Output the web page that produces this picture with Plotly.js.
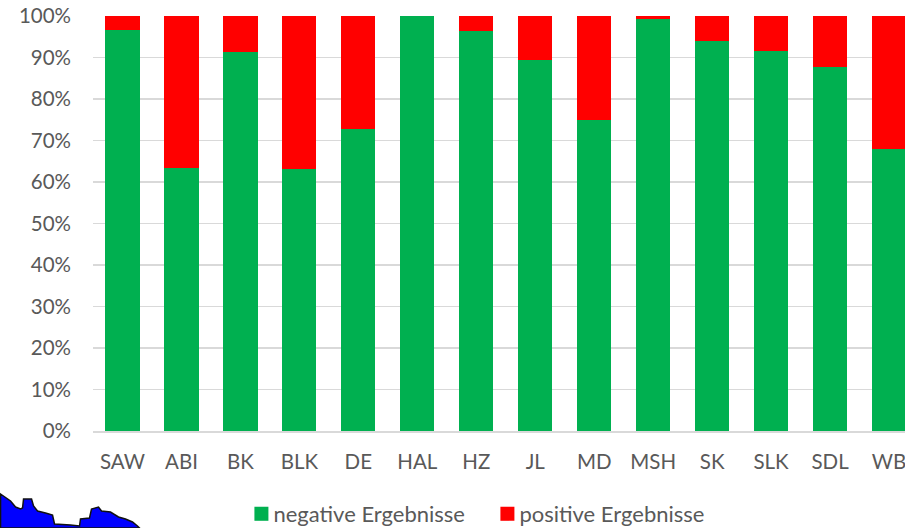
<!DOCTYPE html>
<html><head><meta charset="utf-8">
<script src="https://cdn.plot.ly/plotly-3.0.1.min.js"></script>
<style>html,body{margin:0;padding:0;background:#fff;overflow:hidden;height:528px}#c{width:905px;height:528px;overflow:hidden}text{font-variant-ligatures:none}</style>
</head><body><div id="c"></div>
<script>
const categories=["SAW","ABI","BK","BLK","DE","HAL","HZ","JL","MD","MSH","SK","SLK","SDL","WB"];
const negative=[96.6,63.3,91.4,63.2,72.8,100,96.3,89.3,75,99.2,94,91.6,87.7,68];
const positive=[3.4,36.7,8.6,36.8,27.2,0,3.7,10.7,25,0.8,6,8.4,12.3,32];
const yTicks=[0,10,20,30,40,50,60,70,80,90,100];
const outlineX=[0,10,15,20,22,23,31,33,37,45,52,54,70,79,80,89,91,98,101,110,118,125,132,137,139,0];
const outlineY=[494,501,507,509,508,499,499,506,511,513,515,524,525,526,519,518,509,507,511,512,517,519,522,526,528,528];
const W=905,H=560,L=92.5,T=16,B=431;
const font={family:"Lato,'Open Sans',sans-serif",size:20.5,color:'#595959'};
const toPath=()=>outlineX.map((x,i)=>(i?'L':'M')+(x-L)/(W-L)+','+(B-outlineY[i])/(B-T)).join('')+'Z';
Plotly.newPlot('c',[
 {type:'bar',name:'negative Ergebnisse',x:categories,y:negative,marker:{color:'#00B050',line:{width:0}}},
 {type:'bar',name:'positive Ergebnisse',x:categories,y:positive,marker:{color:'#FF0000',line:{width:0}}}
],{
 width:W,height:H,barmode:'stack',bargap:0.42,paper_bgcolor:'#fff',plot_bgcolor:'#fff',
 margin:{l:L,r:0,t:T,b:H-B,pad:0},showlegend:true,font,
 legend:{orientation:'h',x:(233-L)/(W-L),xanchor:'left',y:(B-514)/(B-T),yanchor:'middle',font:{...font,size:22},itemwidth:30,entrywidth:201,entrywidthmode:'pixels',traceorder:'normal',bgcolor:'rgba(0,0,0,0)'},
 xaxis:{type:'category',categoryorder:'array',categoryarray:categories,range:[-0.5,(W-L)/59-0.5],showline:true,linecolor:'#D9D9D9',linewidth:1.5,ticks:'',showgrid:false,tickfont:font,ticklabelstandoff:12},
 yaxis:{range:[0,100],tickvals:yTicks,ticktext:yTicks.map(v=>v+'%'),gridcolor:'#D9D9D9',gridwidth:1.5,zeroline:false,ticks:'',tickfont:font,ticklabelstandoff:21},
 shapes:[{type:'path',xref:'paper',yref:'paper',path:toPath(),fillcolor:'#0000FF',line:{color:'#111',width:1.5},layer:'above'}]
},{displayModeBar:false,staticPlot:true}).then(gd=>{
 gd.querySelectorAll('.legend .legendsymbols').forEach(s=>s.setAttribute('transform','translate(8,0)'));
 gd.querySelectorAll('.legend .legendbar path, .legend .legendpoints path').forEach(p=>p.setAttribute('d','M7,7H-7V-7H7Z'));
});
</script></body></html>
